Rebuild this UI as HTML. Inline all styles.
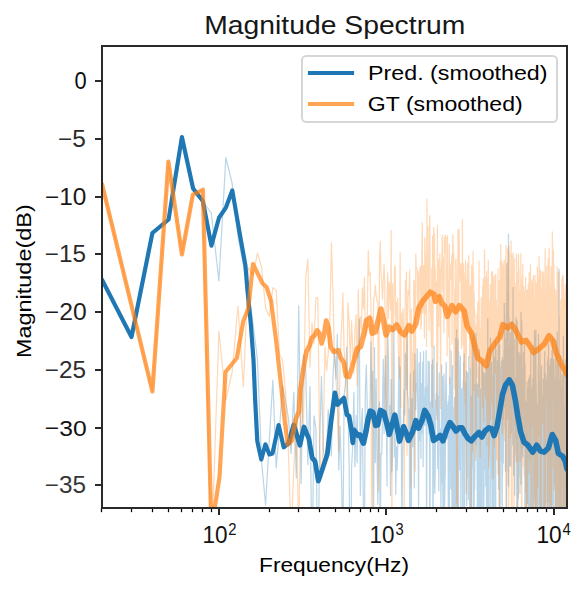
<!DOCTYPE html><html><head><meta charset="utf-8"><style>
html,body{margin:0;padding:0;background:#fff;overflow:hidden;}
svg{display:block;font-family:"Liberation Sans",sans-serif;}
</style></head><body>
<svg width="587" height="591" viewBox="0 0 587 591">
<defs><clipPath id="ax"><rect x="101.92" y="45.88" width="465" height="462"/></clipPath></defs>
<g clip-path="url(#ax)" fill="none" stroke-linejoin="round" stroke-linecap="round">
<g opacity="0.3"><polyline points="101.92,279.8 131.39,336.8 152.30,233.5 168.52,219.6 181.78,137.8 192.98,188.0 202.69,201.0 211.25,213.0 218.91,281.0 225.84,157.5 232.16,183.5 237.98,236.9 243.37,265.0 248.38,290.0 253.07,324.0 257.48,360.0 261.64,462.0 265.57,505.0 269.29,440.0 272.84,380.0 276.22,468.0 279.45,430.0 282.55,385.4 285.51,400.7 288.37,417.9 291.11,453.5 293.75,392.3 296.30,478.0 298.77,305.8 301.15,483.3 303.46,355.0 305.70,370.0 307.87,464.7 309.97,386.6 312.02,580.7 314.01,415.9 315.95,428.9 317.84,591.3 319.68,443.3 321.47,376.6 323.23,448.8 324.94,461.1 326.61,452.6 328.24,409.5 329.84,435.2 331.40,456.0 332.93,377.3 334.43,349.2 335.90,379.1 337.34,334.4 338.75,469.9 340.14,426.4 341.49,475.9 342.83,552.5 344.14,394.7 345.42,384.2 346.69,347.0 347.93,404.1 349.15,464.9 350.36,643.2 351.54,468.0 352.70,445.8 353.84,392.7 354.97,466.7 356.08,415.3 357.17,462.8 358.25,359.4 359.31,319.2 360.36,495.3 361.39,423.7 362.41,408.3 363.41,513.7 364.40,541.7 365.37,389.5 366.34,365.2 367.29,409.5 368.23,412.1 369.15,419.6 370.07,402.3 370.97,341.6 371.86,413.3 372.74,371.3 373.61,518.2 374.47,347.6 375.32,462.6 376.16,378.9 376.99,454.2 377.82,504.2 378.63,417.2 379.43,401.8 380.22,556.7 381.01,453.3 381.79,453.8 382.56,401.7 383.32,359.3 384.07,433.7 384.82,382.1 385.56,355.7 386.29,416.1 387.01,485.9 387.73,334.4 388.43,357.1 389.14,426.2 389.83,405.5 390.52,495.6 391.20,379.5 391.88,472.1 392.55,455.6 393.21,398.3 393.87,323.1 394.52,457.1 395.17,437.7 395.81,494.5 396.45,446.7 397.07,470.3 397.70,453.1 398.32,404.5 398.93,357.0 399.54,437.4 400.14,366.8 400.74,419.8 401.33,443.9 401.92,533.4 402.51,459.4 403.09,428.0 403.66,412.4 404.23,389.8 404.80,415.0 405.36,353.2 405.91,369.8 406.47,389.4 407.02,331.1 407.56,394.1 408.10,399.6 408.64,438.9 409.17,409.0 409.70,515.9 410.22,373.9 410.74,519.6 411.26,529.3 411.78,398.5 412.29,407.8 412.79,446.8 413.30,394.6 413.80,371.0 414.29,488.0 414.78,353.6 415.27,390.1 415.76,409.7 416.24,383.1 416.72,390.1 417.20,348.8 417.67,401.6 418.14,448.7 418.61,510.5 419.08,363.2 419.54,440.7 420.00,372.9 420.45,352.7 420.90,458.4 421.35,383.6 421.80,433.2 422.25,406.9 422.69,362.1 423.13,466.7 423.56,351.5 424.00,425.1 424.43,395.6 424.86,425.4 425.28,387.8 425.71,422.0 426.13,350.3 426.55,559.9 426.97,430.5 427.38,386.1 427.79,402.9 428.20,361.1 428.61,427.4 429.01,434.4 429.42,361.9 429.82,595.5 430.21,430.9 430.61,402.0 431.00,404.3 431.40,420.7 431.79,364.4 432.17,409.9 432.56,359.8 432.94,566.9 433.32,484.3 433.70,409.0 434.08,346.0 434.46,480.0 434.83,493.4 435.20,472.0 435.57,400.4 435.94,415.0 436.31,393.4 436.67,407.5 437.03,363.2 437.40,416.9 437.75,468.5 438.11,396.1 438.47,453.5 438.82,490.7 439.17,372.9 439.52,441.1 439.87,432.3 440.22,429.0 440.56,456.4 440.91,511.3 441.25,452.6 441.59,364.9 441.93,445.6 442.27,483.1 442.60,376.3 442.94,520.5 443.27,558.1 443.60,485.5 443.93,373.9 444.26,397.6 444.58,517.4 444.91,481.8 445.23,474.9 445.56,398.4 445.88,377.0 446.20,362.4 446.51,422.6 446.83,405.1 447.15,410.2 447.46,438.8 447.77,411.3 448.08,401.4 448.39,582.4 448.70,484.4 449.01,395.7 449.32,535.2 449.62,377.7 449.92,432.2 450.23,385.6 450.53,430.4 450.83,488.8 451.13,350.6 451.42,420.9 451.72,430.9 452.01,555.5 452.31,400.5 452.60,365.6 452.89,448.6 453.18,407.4 453.47,589.2 453.76,483.8 454.05,559.2 454.33,424.5 454.62,397.4 454.90,405.9 455.18,548.9 455.46,522.0 455.74,338.5 456.02,487.9 456.30,526.4 456.58,329.8 456.85,384.5 457.13,374.1 457.40,640.2 457.67,516.6 457.95,339.5 458.22,368.3 458.49,546.3 458.76,352.3 459.02,374.8 459.29,469.6 459.56,469.7 459.82,421.8 460.08,465.3 460.35,356.0 460.61,431.9 460.87,509.3 461.13,401.7 461.39,424.4 461.65,388.8 461.90,388.9 462.16,428.8 462.42,459.9 462.67,586.3 462.93,519.8 463.18,381.1 463.43,439.3 463.68,361.9 463.93,452.7 464.18,353.5 464.43,590.2 464.68,468.5 464.92,439.7 465.17,389.5 465.41,430.1 465.66,382.6 465.90,383.2 466.15,394.7 466.39,371.2 466.63,505.7 466.87,378.4 467.11,477.6 467.35,399.4 467.58,372.9 467.82,401.8 468.06,424.0 468.29,499.9 468.53,456.8 468.76,356.6 469.00,471.1 469.23,476.8 469.46,477.6 469.69,513.8 469.92,494.1 470.15,368.2 470.38,650.0 470.61,471.9 470.84,541.6 471.06,396.1 471.29,487.8 471.52,525.8 471.74,500.2 471.96,458.8 472.19,393.9 472.41,337.5 472.63,458.5 472.85,390.7 473.07,467.0 473.29,421.8 473.51,511.0 473.73,418.4 473.95,334.0 474.17,544.6 474.38,409.2 474.60,489.8 474.81,471.8 475.03,447.7 475.24,384.3 475.46,402.0 475.67,430.0 475.88,404.0 476.09,333.6 476.30,442.8 476.52,445.7 476.73,441.0 476.93,385.2 477.14,474.6 477.35,519.1 477.56,440.5 477.76,383.9 477.97,388.2 478.18,514.7 478.38,410.0 478.59,514.0 478.79,469.7 478.99,367.3 479.20,459.8 479.40,349.7 479.60,527.8 479.80,412.5 480.00,427.7 480.20,450.8 480.40,553.9 480.60,389.1 480.80,484.5 481.00,473.0 481.19,407.5 481.39,391.7 481.59,546.8 481.78,362.1 481.98,386.8 482.17,382.5 482.37,439.3 482.56,362.8 482.75,415.7 482.95,469.1 483.14,556.0 483.33,422.9 483.52,372.2 483.71,435.2 483.90,516.7 484.09,459.8 484.28,437.9 484.47,379.1 484.66,373.6 484.84,436.8 485.03,381.3 485.22,468.7 485.40,411.7 485.59,453.3 485.77,486.4 485.96,366.6 486.14,408.0 486.33,370.0 486.51,542.6 486.69,435.0 486.88,554.9 487.06,368.4 487.24,354.0 487.42,398.7 487.60,390.3 487.78,318.7 487.96,432.1 488.14,496.9 488.32,533.3 488.50,564.9 488.67,403.8 488.85,364.6 489.03,572.1 489.21,370.0 489.38,405.8 489.56,431.5 489.73,348.0 489.91,424.5 490.08,379.9 490.26,446.9 490.43,338.0 490.60,454.2 490.78,523.6 490.95,513.8 491.12,428.0 491.29,434.0 491.46,367.9 491.64,362.3 491.81,429.1 491.98,375.7 492.15,443.3 492.31,480.3 492.48,446.3 492.65,509.9 492.82,413.1 492.99,508.9 493.15,588.9 493.32,346.7 493.49,439.1 493.65,405.8 493.82,364.0 493.99,473.2 494.15,523.0 494.32,433.1 494.48,357.0 494.64,477.4 494.81,366.8 494.97,454.7 495.13,392.4 495.30,372.0 495.46,340.9 495.62,650.0 495.78,448.9 495.94,349.6 496.10,430.5 496.26,436.1 496.42,430.6 496.58,416.3 496.74,381.7 496.90,430.2 497.06,412.1 497.22,378.4 497.37,360.5 497.53,366.5 497.69,403.1 497.85,384.2 498.00,428.2 498.16,406.5 498.31,345.3 498.47,361.0 498.63,488.9 498.78,397.7 498.93,337.2 499.09,331.8 499.24,469.3 499.40,420.0 499.55,521.4 499.70,385.3 499.85,344.9 500.01,501.8 500.16,515.7 500.31,472.3 500.46,403.6 500.61,390.8 500.76,395.5 500.91,397.9 501.06,366.6 501.21,410.8 501.36,385.2 501.51,361.4 501.66,462.2 501.81,368.8 501.96,501.6 502.11,506.5 502.25,502.3 502.40,357.5 502.55,475.8 502.69,373.6 502.84,434.4 502.99,360.3 503.13,403.7 503.28,463.2 503.42,431.3 503.57,396.0 503.71,428.1 503.86,375.1 504.00,349.8 504.15,383.0 504.29,303.3 504.43,332.1 504.57,315.3 504.72,361.2 504.86,407.3 505.00,350.1 505.14,381.5 505.29,390.5 505.43,471.2 505.57,341.9 505.71,397.4 505.85,339.1 505.99,391.8 506.13,348.9 506.27,374.9 506.41,343.7 506.55,303.4 506.69,518.8 506.82,348.9 506.96,263.4 507.10,359.5 507.24,335.9 507.38,384.6 507.51,418.9 507.65,329.0 507.79,292.0 507.92,368.3 508.06,307.0 508.20,416.8 508.33,351.7 508.47,234.0 508.60,300.0 508.74,486.6 508.87,319.7 509.01,318.3 509.14,466.1 509.28,460.5 509.41,368.7 509.54,347.7 509.68,353.7 509.81,454.0 509.94,442.9 510.07,434.6 510.21,428.8 510.34,465.5 510.47,333.0 510.60,353.5 510.73,466.3 510.86,451.2 510.99,391.3 511.13,337.6 511.26,401.5 511.39,432.9 511.52,323.9 511.65,340.9 511.78,378.4 511.90,321.6 512.03,379.2 512.16,431.1 512.29,358.0 512.42,370.4 512.55,323.0 512.67,386.2 512.80,444.9 512.93,355.6 513.06,287.7 513.18,351.6 513.31,393.2 513.44,335.4 513.56,384.5 513.69,475.6 513.82,384.0 513.94,356.9 514.07,389.9 514.19,339.2 514.32,445.6 514.44,377.7 514.57,474.5 514.69,443.4 514.81,495.2 514.94,389.7 515.06,377.9 515.19,454.3 515.31,442.7 515.43,386.6 515.56,438.4 515.68,386.5 515.80,380.1 515.92,414.5 516.04,317.5 516.17,418.0 516.29,329.0 516.41,355.1 516.53,342.8 516.65,373.2 516.77,565.6 516.89,451.1 517.01,320.9 517.13,328.0 517.25,323.4 517.37,650.0 517.49,440.8 517.61,343.0 517.73,442.2 517.85,494.5 517.97,414.7 518.09,414.1 518.21,400.0 518.33,497.9 518.44,364.5 518.56,381.8 518.68,449.9 518.80,436.5 518.91,352.1 519.03,433.2 519.15,457.9 519.27,476.3 519.38,406.8 519.50,392.9 519.61,417.1 519.73,369.4 519.85,433.1 519.96,493.5 520.08,387.3 520.19,354.5 520.31,378.6 520.42,404.9 520.54,454.0 520.65,410.7 520.77,484.0 520.88,458.4 520.99,312.2 521.11,484.2 521.22,420.0 521.34,383.4 521.45,453.4 521.56,391.5 521.68,435.6 521.79,321.0 521.90,418.9 522.01,351.4 522.13,371.3 522.24,435.6 522.35,451.5 522.46,379.1 522.57,368.8 522.68,457.2 522.80,429.8 522.91,447.9 523.02,432.1 523.13,414.1 523.24,444.1 523.35,426.3 523.46,406.5 523.57,391.4 523.68,352.3 523.79,396.4 523.90,388.2 524.01,439.5 524.12,408.3 524.23,397.4 524.34,474.8 524.44,344.0 524.55,411.2 524.66,402.4 524.77,415.1 524.88,506.8 524.99,363.2 525.09,442.2 525.20,467.3 525.31,560.3 525.42,415.6 525.52,466.4 525.63,483.9 525.74,537.0 525.84,586.8 525.95,563.0 526.06,401.5 526.16,566.3 526.27,572.9 526.37,486.9 526.48,403.5 526.59,474.6 526.69,493.2 526.80,439.7 526.90,403.7 527.01,393.3 527.11,381.8 527.22,434.3 527.32,451.3 527.42,461.3 527.53,503.3 527.63,399.2 527.74,388.3 527.84,411.4 527.94,462.1 528.05,391.2 528.15,497.6 528.25,394.9 528.36,418.5 528.46,464.9 528.56,505.3 528.67,378.9 528.77,525.4 528.87,468.0 528.97,415.3 529.07,414.0 529.18,521.0 529.28,456.0 529.38,489.2 529.48,442.8 529.58,460.3 529.68,412.7 529.78,375.3 529.89,416.5 529.99,545.3 530.09,413.5 530.19,448.0 530.29,483.1 530.39,379.8 530.49,407.3 530.59,602.1 530.69,373.6 530.79,348.3 530.89,528.0 530.99,406.5 531.08,470.7 531.18,449.5 531.28,441.4 531.38,474.8 531.48,399.0 531.58,495.3 531.68,461.0 531.78,443.9 531.87,436.3 531.97,387.9 532.07,440.0 532.17,424.7 532.27,589.0 532.36,461.7 532.46,385.7 532.56,386.4 532.65,491.0 532.75,379.2 532.85,437.0 532.95,398.4 533.04,403.8 533.14,521.2 533.23,650.0 533.33,406.2 533.43,345.5 533.52,465.0 533.62,503.2 533.71,467.1 533.81,393.5 533.91,385.4 534.00,471.5 534.10,367.9 534.19,386.8 534.29,466.0 534.38,449.0 534.48,330.9 534.57,395.9 534.66,424.7 534.76,339.2 534.85,388.9 534.95,497.9 535.04,408.7 535.14,405.4 535.23,573.7 535.32,409.8 535.42,337.6 535.51,422.7 535.60,633.3 535.70,396.1 535.79,423.9 535.88,330.2 535.97,420.3 536.07,484.9 536.16,383.4 536.25,425.9 536.34,393.7 536.44,520.2 536.53,405.3 536.62,440.3 536.71,462.1 536.80,472.2 536.90,415.4 536.99,531.6 537.08,440.3 537.17,417.2 537.26,527.0 537.35,487.7 537.44,404.4 537.53,416.3 537.62,432.6 537.72,442.2 537.81,453.5 537.90,420.5 537.99,436.3 538.08,612.6 538.17,366.9 538.26,394.0 538.35,393.1 538.44,456.1 538.53,334.3 538.61,409.5 538.70,469.4 538.79,381.3 538.88,604.0 538.97,470.4 539.06,467.5 539.15,564.4 539.24,504.3 539.33,505.2 539.42,456.2 539.50,457.6 539.59,450.8 539.68,402.9 539.77,424.4 539.86,421.1 539.94,461.8 540.03,347.1 540.12,585.4 540.21,427.3 540.29,457.1 540.38,601.6 540.47,510.1 540.56,468.0 540.64,614.9 540.73,407.5 540.82,518.8 540.90,549.2 540.99,546.4 541.08,454.1 541.16,520.7 541.25,411.2 541.33,373.8 541.42,476.4 541.51,365.5 541.59,425.2 541.68,503.1 541.76,585.1 541.85,438.3 541.94,490.3 542.02,442.1 542.11,475.0 542.19,432.3 542.28,400.7 542.36,402.8 542.45,600.0 542.53,448.5 542.62,505.0 542.70,395.3 542.78,499.6 542.87,556.9 542.95,463.4 543.04,439.7 543.12,379.4 543.21,405.7 543.29,413.3 543.37,409.1 543.46,437.2 543.54,431.4 543.62,442.3 543.71,418.1 543.79,443.9 543.87,453.5 543.96,580.9 544.04,629.1 544.12,454.2 544.21,436.4 544.29,365.7 544.37,499.8 544.45,494.8 544.54,361.0 544.62,395.0 544.70,351.6 544.78,362.2 544.87,464.4 544.95,462.6 545.03,506.5 545.11,400.3 545.19,428.0 545.27,538.4 545.36,387.5 545.44,487.0 545.52,373.8 545.60,485.0 545.68,444.3 545.76,397.9 545.84,454.5 545.92,435.6 546.00,451.0 546.09,502.1 546.17,405.5 546.25,434.5 546.33,435.4 546.41,380.0 546.49,382.9 546.57,430.4 546.65,455.0 546.73,430.7 546.81,452.5 546.89,461.4 546.97,574.1 547.05,393.6 547.13,424.8 547.21,376.0 547.29,432.3 547.37,474.8 547.44,445.1 547.52,361.6 547.60,554.1 547.68,460.9 547.76,406.8 547.84,445.7 547.92,357.0 548.00,457.1 548.07,414.4 548.15,442.2 548.23,444.2 548.31,501.9 548.39,471.5 548.47,445.1 548.54,343.8 548.62,392.6 548.70,402.0 548.78,605.2 548.86,368.6 548.93,494.6 549.01,452.1 549.09,409.9 549.17,401.3 549.24,396.6 549.32,366.1 549.40,612.2 549.47,440.3 549.55,518.0 549.63,429.3 549.71,424.7 549.78,386.6 549.86,388.0 549.93,564.6 550.01,413.0 550.09,423.6 550.16,453.7 550.24,438.4 550.32,364.6 550.39,429.6 550.47,359.9 550.54,435.4 550.62,456.0 550.70,375.1 550.77,511.4 550.85,419.1 550.92,467.9 551.00,467.1 551.07,477.7 551.15,358.6 551.22,598.8 551.30,380.2 551.37,389.9 551.45,392.0 551.52,391.9 551.60,370.5 551.67,439.1 551.75,493.7 551.82,415.7 551.90,412.8 551.97,412.2 552.05,350.5 552.12,431.1 552.19,456.0 552.27,407.0 552.34,504.7 552.42,384.1 552.49,480.6 552.56,487.7 552.64,339.0 552.71,380.8 552.79,458.4 552.86,470.9 552.93,650.0 553.01,432.6 553.08,400.2 553.15,462.2 553.23,361.2 553.30,430.5 553.37,399.8 553.45,461.1 553.52,389.8 553.59,483.4 553.66,375.8 553.74,522.5 553.81,440.3 553.88,359.1 553.95,369.8 554.03,362.9 554.10,379.3 554.17,434.5 554.24,411.8 554.31,385.4 554.39,438.3 554.46,401.7 554.53,423.1 554.60,399.9 554.67,485.0 554.75,428.2 554.82,381.1 554.89,415.0 554.96,384.5 555.03,388.5 555.10,435.4 555.17,379.0 555.25,391.0 555.32,399.7 555.39,573.9 555.46,582.9 555.53,393.7 555.60,468.8 555.67,461.2 555.74,354.9 555.81,415.6 555.88,340.2 555.95,402.9 556.02,522.8 556.09,555.0 556.16,563.8 556.23,600.7 556.30,448.2 556.37,395.8 556.44,476.6 556.51,450.6 556.58,381.2 556.65,380.3 556.72,550.9 556.79,458.5 556.86,432.4 556.93,397.1 557.00,412.8 557.07,516.7 557.14,445.2 557.21,429.2 557.28,332.2 557.35,432.4 557.42,437.0 557.49,401.1 557.56,379.8 557.62,433.5 557.69,535.9 557.76,408.8 557.83,529.1 557.90,429.2 557.97,439.0 558.04,424.1 558.10,365.2 558.17,374.6 558.24,451.8 558.31,547.2 558.38,448.4 558.45,396.7 558.51,418.8 558.58,422.5 558.65,391.5 558.72,445.9 558.79,363.9 558.85,381.2 558.92,369.5 558.99,433.6 559.06,269.0 559.12,519.3 559.19,416.8 559.26,526.9 559.33,379.8 559.39,447.5 559.46,512.6 559.53,442.2 559.59,552.0 559.66,466.8 559.73,495.5 559.79,381.7 559.86,397.1 559.93,479.7 559.99,429.9 560.06,444.6 560.13,400.6 560.19,397.4 560.26,495.8 560.33,503.0 560.39,481.4 560.46,560.9 560.53,396.9 560.59,406.2 560.66,438.2 560.72,355.5 560.79,486.0 560.86,432.6 560.92,422.6 560.99,468.3 561.05,417.4 561.12,386.9 561.18,566.9 561.25,445.8 561.32,444.0 561.38,451.0 561.45,470.8 561.51,464.2 561.58,412.3 561.64,548.7 561.71,481.1 561.77,420.9 561.84,451.9 561.90,516.9 561.97,442.5 562.03,534.4 562.10,562.3 562.16,418.9 562.23,375.1 562.29,441.9 562.35,416.6 562.42,484.0 562.48,572.7 562.55,441.9 562.61,432.9 562.68,409.5 562.74,574.8 562.80,650.0 562.87,450.2 562.93,443.4 563.00,439.0 563.06,417.4 563.12,374.1 563.19,437.7 563.25,403.4 563.32,526.7 563.38,336.4 563.44,367.9 563.51,523.4 563.57,430.1 563.63,409.6 563.70,480.0 563.76,421.2 563.82,478.3 563.89,416.4 563.95,425.4 564.01,510.8 564.08,506.4 564.14,521.8 564.20,430.1 564.26,468.0 564.33,418.3 564.39,414.0 564.45,454.2 564.52,547.4 564.58,406.6 564.64,590.7 564.70,408.7 564.77,424.4 564.83,409.7 564.89,409.0 564.95,451.8 565.01,365.9 565.08,393.2 565.14,522.0 565.20,514.9 565.26,577.5 565.32,360.0 565.39,457.4 565.45,535.1 565.51,650.0 565.57,381.0 565.63,489.1 565.69,500.3 565.76,462.0 565.82,429.0 565.88,401.9 565.94,452.5 566.00,404.5 566.06,397.0 566.12,419.8 566.19,474.1 566.25,460.1 566.31,611.1 566.37,401.5 566.43,476.4 566.49,449.5 566.55,414.2 566.61,430.9 566.67,411.1 566.73,463.4 566.80,367.5 566.86,438.9 566.92,451.5" stroke="#1f77b4" stroke-width="1.22"/></g>
<g opacity="0.3"><polyline points="101.92,184.0 131.39,305.0 152.30,391.1 168.52,162.3 181.78,253.6 192.98,194.8 202.69,189.8 211.25,560.0 218.91,331.0 225.84,400.0 232.16,372.0 237.98,306.0 243.37,387.0 248.38,267.5 253.07,275.0 257.48,253.0 261.64,267.5 265.57,307.8 269.29,316.5 272.84,287.6 276.22,290.5 279.45,354.0 282.55,360.0 285.51,391.4 288.37,449.0 291.11,537.2 293.75,469.4 296.30,420.1 298.77,537.5 301.15,383.7 303.46,425.4 305.70,276.7 307.87,259.3 309.97,367.5 312.02,322.9 314.01,343.7 315.95,297.9 317.84,297.7 319.68,448.1 321.47,478.4 323.23,443.5 324.94,346.8 326.61,370.8 328.24,352.9 329.84,320.8 331.40,242.7 332.93,292.5 334.43,355.7 335.90,374.1 337.34,407.5 338.75,451.1 340.14,358.2 341.49,329.9 342.83,292.9 344.14,351.0 345.42,369.6 346.69,401.0 347.93,302.9 349.15,321.3 350.36,364.5 351.54,320.8 352.70,348.7 353.84,373.2 354.97,330.3 356.08,314.8 357.17,386.6 358.25,289.6 359.31,339.9 360.36,316.7 361.39,329.1 362.41,287.8 363.41,308.6 364.40,277.0 365.37,336.4 366.34,333.0 367.29,321.0 368.23,250.5 369.15,275.4 370.07,272.2 370.97,311.8 371.86,650.0 372.74,387.5 373.61,298.3 374.47,297.1 375.32,285.1 376.16,295.2 376.99,301.0 377.82,301.4 378.63,491.2 379.43,262.0 380.22,241.0 381.01,272.9 381.79,283.8 382.56,299.1 383.32,279.6 384.07,264.7 384.82,281.3 385.56,427.2 386.29,415.2 387.01,300.9 387.73,272.9 388.43,318.4 389.14,282.3 389.83,289.7 390.52,310.0 391.20,230.3 391.88,555.2 392.55,283.7 393.21,321.9 393.87,315.7 394.52,269.2 395.17,265.7 395.81,326.0 396.45,302.4 397.07,326.3 397.70,298.2 398.32,351.5 398.93,359.7 399.54,378.6 400.14,252.6 400.74,407.5 401.33,313.0 401.92,329.0 402.51,314.1 403.09,308.8 403.66,343.0 404.23,509.4 404.80,341.9 405.36,280.8 405.91,291.4 406.47,271.9 407.02,455.2 407.56,317.9 408.10,290.5 408.64,295.2 409.17,288.9 409.70,270.0 410.22,361.5 410.74,486.2 411.26,309.0 411.78,395.3 412.29,423.8 412.79,351.9 413.30,390.8 413.80,280.2 414.29,281.3 414.78,301.3 415.27,471.2 415.76,254.3 416.24,266.6 416.72,268.4 417.20,269.4 417.67,316.5 418.14,271.7 418.61,310.6 419.08,296.9 419.54,277.7 420.00,267.7 420.45,266.4 420.90,329.2 421.35,322.9 421.80,257.8 422.25,222.8 422.69,313.1 423.13,303.7 423.56,265.5 424.00,286.2 424.43,338.3 424.86,237.9 425.28,266.6 425.71,314.3 426.13,255.6 426.55,346.4 426.97,199.2 427.38,288.9 427.79,227.0 428.20,291.9 428.61,274.4 429.01,330.7 429.42,228.9 429.82,215.7 430.21,309.8 430.61,311.9 431.00,318.6 431.40,346.6 431.79,268.1 432.17,407.4 432.56,236.1 432.94,347.1 433.32,251.3 433.70,227.3 434.08,301.1 434.46,233.9 434.83,286.0 435.20,267.7 435.57,292.9 435.94,281.3 436.31,282.0 436.67,322.1 437.03,419.7 437.40,225.1 437.75,363.8 438.11,284.1 438.47,259.0 438.82,326.3 439.17,267.0 439.52,306.8 439.87,253.6 440.22,313.6 440.56,408.5 440.91,313.0 441.25,268.6 441.59,264.6 441.93,257.2 442.27,235.2 442.60,290.6 442.94,257.5 443.27,297.1 443.60,295.8 443.93,332.8 444.26,237.5 444.58,252.8 444.91,251.6 445.23,234.9 445.56,248.5 445.88,237.4 446.20,312.1 446.51,303.0 446.83,263.0 447.15,356.0 447.46,235.7 447.77,277.8 448.08,290.1 448.39,317.2 448.70,336.8 449.01,317.5 449.32,244.5 449.62,384.0 449.92,263.1 450.23,268.2 450.53,265.1 450.83,278.9 451.13,270.1 451.42,279.2 451.72,255.4 452.01,344.2 452.31,289.9 452.60,249.5 452.89,234.7 453.18,254.9 453.47,264.8 453.76,252.0 454.05,366.7 454.33,379.4 454.62,389.3 454.90,389.3 455.18,289.2 455.46,419.6 455.74,260.1 456.02,258.9 456.30,278.8 456.58,502.8 456.85,314.0 457.13,354.8 457.40,514.7 457.67,313.0 457.95,229.9 458.22,352.6 458.49,266.9 458.76,317.3 459.02,228.8 459.29,245.4 459.56,276.5 459.82,268.2 460.08,273.7 460.35,281.5 460.61,268.9 460.87,263.4 461.13,269.5 461.39,348.4 461.65,282.8 461.90,275.8 462.16,306.7 462.42,219.3 462.67,327.7 462.93,345.1 463.18,283.9 463.43,336.4 463.68,263.5 463.93,389.6 464.18,272.7 464.43,289.5 464.68,313.1 464.92,352.5 465.17,399.8 465.41,405.4 465.66,260.9 465.90,341.5 466.15,493.4 466.39,281.2 466.63,305.6 466.87,318.9 467.11,299.1 467.35,278.9 467.58,263.4 467.82,328.5 468.06,286.6 468.29,294.1 468.53,277.1 468.76,255.5 469.00,311.5 469.23,327.3 469.46,286.2 469.69,357.8 469.92,291.2 470.15,367.6 470.38,285.2 470.61,301.1 470.84,328.1 471.06,564.2 471.29,337.7 471.52,266.5 471.74,265.3 471.96,308.4 472.19,266.1 472.41,315.8 472.63,452.1 472.85,328.8 473.07,251.3 473.29,312.8 473.51,273.4 473.73,292.0 473.95,390.6 474.17,292.6 474.38,326.6 474.60,373.0 474.81,310.4 475.03,356.9 475.24,347.2 475.46,419.1 475.67,460.5 475.88,325.2 476.09,457.1 476.30,360.4 476.52,342.6 476.73,362.8 476.93,314.4 477.14,377.1 477.35,329.0 477.56,355.9 477.76,302.4 477.97,370.5 478.18,396.4 478.38,349.4 478.59,320.9 478.79,366.6 478.99,261.1 479.20,310.2 479.40,386.8 479.60,365.2 479.80,327.7 480.00,391.8 480.20,457.5 480.40,434.1 480.60,338.2 480.80,389.8 481.00,368.9 481.19,297.4 481.39,367.1 481.59,337.3 481.78,304.3 481.98,303.3 482.17,302.7 482.37,408.0 482.56,286.5 482.75,312.0 482.95,323.8 483.14,278.9 483.33,357.8 483.52,340.5 483.71,421.8 483.90,301.3 484.09,334.4 484.28,369.1 484.47,250.2 484.66,259.2 484.84,327.1 485.03,279.9 485.22,395.7 485.40,342.3 485.59,323.4 485.77,276.8 485.96,400.0 486.14,313.2 486.33,345.3 486.51,384.3 486.69,271.3 486.88,445.4 487.06,278.6 487.24,430.0 487.42,305.7 487.60,357.0 487.78,358.0 487.96,321.8 488.14,341.1 488.32,260.9 488.50,401.6 488.67,467.2 488.85,304.3 489.03,332.5 489.21,457.4 489.38,334.0 489.56,342.6 489.73,299.0 489.91,312.0 490.08,328.3 490.26,284.4 490.43,419.6 490.60,318.3 490.78,352.5 490.95,372.9 491.12,341.5 491.29,340.0 491.46,305.7 491.64,271.4 491.81,403.7 491.98,372.2 492.15,301.1 492.31,305.0 492.48,293.5 492.65,272.4 492.82,403.8 492.99,478.5 493.15,286.3 493.32,378.0 493.49,277.1 493.65,396.9 493.82,315.1 493.99,304.8 494.15,342.6 494.32,446.7 494.48,315.2 494.64,306.8 494.81,295.9 494.97,275.6 495.13,318.9 495.30,372.7 495.46,295.6 495.62,332.6 495.78,274.2 495.94,321.8 496.10,307.9 496.26,299.7 496.42,302.2 496.58,459.3 496.74,371.8 496.90,416.7 497.06,459.7 497.22,308.5 497.37,351.2 497.53,360.7 497.69,315.3 497.85,473.9 498.00,268.6 498.16,405.1 498.31,315.8 498.47,372.4 498.63,332.1 498.78,353.3 498.93,280.8 499.09,575.7 499.24,282.2 499.40,348.1 499.55,284.8 499.70,344.5 499.85,407.8 500.01,348.9 500.16,261.3 500.31,311.2 500.46,296.6 500.61,291.5 500.76,244.4 500.91,292.7 501.06,339.1 501.21,275.4 501.36,275.7 501.51,272.2 501.66,283.7 501.81,261.0 501.96,407.0 502.11,433.5 502.25,282.3 502.40,291.5 502.55,300.0 502.69,433.6 502.84,263.8 502.99,298.6 503.13,266.1 503.28,304.4 503.42,354.0 503.57,327.9 503.71,358.8 503.86,420.1 504.00,271.7 504.15,293.2 504.29,260.1 504.43,386.8 504.57,419.6 504.72,440.7 504.86,285.7 505.00,279.2 505.14,333.8 505.29,349.6 505.43,365.2 505.57,285.0 505.71,256.8 505.85,576.1 505.99,245.7 506.13,280.9 506.27,419.2 506.41,325.8 506.55,349.7 506.69,315.8 506.82,345.2 506.96,318.4 507.10,265.3 507.24,301.6 507.38,353.4 507.51,472.0 507.65,248.8 507.79,271.3 507.92,248.8 508.06,484.6 508.20,365.5 508.33,348.2 508.47,253.1 508.60,267.3 508.74,589.0 508.87,246.0 509.01,341.6 509.14,314.7 509.28,284.1 509.41,252.3 509.54,394.1 509.68,278.1 509.81,282.6 509.94,420.2 510.07,303.8 510.21,325.8 510.34,437.6 510.47,312.4 510.60,340.3 510.73,420.2 510.86,263.5 510.99,240.8 511.13,287.8 511.26,281.0 511.39,514.3 511.52,275.1 511.65,338.7 511.78,254.7 511.90,366.7 512.03,576.2 512.16,488.0 512.29,354.4 512.42,305.5 512.55,263.7 512.67,288.5 512.80,274.4 512.93,330.9 513.06,289.4 513.18,252.9 513.31,274.2 513.44,314.1 513.56,376.8 513.69,354.7 513.82,428.9 513.94,547.5 514.07,300.5 514.19,258.5 514.32,272.3 514.44,338.9 514.57,287.9 514.69,323.4 514.81,339.8 514.94,425.2 515.06,286.7 515.19,296.6 515.31,396.6 515.43,333.8 515.56,341.4 515.68,371.3 515.80,455.3 515.92,283.1 516.04,461.4 516.17,316.0 516.29,358.7 516.41,254.1 516.53,286.0 516.65,258.9 516.77,280.9 516.89,461.9 517.01,412.6 517.13,457.0 517.25,411.4 517.37,381.2 517.49,282.1 517.61,397.5 517.73,454.3 517.85,278.4 517.97,573.4 518.09,272.8 518.21,272.1 518.33,380.3 518.44,313.1 518.56,254.3 518.68,275.6 518.80,382.3 518.91,344.8 519.03,269.3 519.15,394.8 519.27,289.9 519.38,418.9 519.50,307.0 519.61,372.3 519.73,293.8 519.85,290.2 519.96,360.2 520.08,461.0 520.19,363.8 520.31,353.0 520.42,352.8 520.54,290.3 520.65,408.0 520.77,383.9 520.88,253.6 520.99,374.7 521.11,448.3 521.22,302.8 521.34,299.7 521.45,298.9 521.56,519.3 521.68,312.8 521.79,279.9 521.90,552.2 522.01,303.3 522.13,294.0 522.24,342.0 522.35,276.9 522.46,293.5 522.57,353.4 522.68,296.8 522.80,264.3 522.91,466.7 523.02,305.7 523.13,409.1 523.24,295.1 523.35,372.8 523.46,406.3 523.57,298.2 523.68,361.6 523.79,305.6 523.90,286.5 524.01,353.3 524.12,326.0 524.23,346.6 524.34,431.3 524.44,336.5 524.55,323.8 524.66,327.3 524.77,367.1 524.88,291.7 524.99,312.4 525.09,294.9 525.20,307.5 525.31,360.1 525.42,427.5 525.52,476.7 525.63,277.5 525.74,492.0 525.84,302.7 525.95,290.5 526.06,452.0 526.16,469.1 526.27,365.8 526.37,540.7 526.48,360.5 526.59,521.5 526.69,323.2 526.80,451.7 526.90,436.3 527.01,290.1 527.11,319.7 527.22,311.8 527.32,308.2 527.42,505.1 527.53,529.0 527.63,417.7 527.74,330.3 527.84,327.7 527.94,302.5 528.05,420.7 528.15,285.2 528.25,286.2 528.36,301.9 528.46,365.9 528.56,375.8 528.67,307.3 528.77,283.7 528.87,410.0 528.97,401.1 529.07,472.7 529.18,272.6 529.28,293.9 529.38,358.4 529.48,322.7 529.58,299.1 529.68,411.2 529.78,372.6 529.89,280.9 529.99,356.6 530.09,389.0 530.19,382.8 530.29,459.4 530.39,406.9 530.49,264.8 530.59,406.8 530.69,317.0 530.79,381.2 530.89,331.1 530.99,281.4 531.08,554.3 531.18,455.3 531.28,400.5 531.38,289.1 531.48,281.6 531.58,356.1 531.68,422.6 531.78,415.8 531.87,286.4 531.97,280.6 532.07,425.6 532.17,309.0 532.27,307.7 532.36,389.4 532.46,297.8 532.56,332.0 532.65,348.8 532.75,304.8 532.85,302.1 532.95,292.5 533.04,509.1 533.14,427.5 533.23,277.3 533.33,275.8 533.43,301.1 533.52,410.8 533.62,339.5 533.71,331.8 533.81,403.5 533.91,397.7 534.00,378.0 534.10,300.0 534.19,337.4 534.29,306.2 534.38,350.5 534.48,340.9 534.57,525.9 534.66,311.8 534.76,297.9 534.85,301.1 534.95,275.1 535.04,512.2 535.14,302.6 535.23,501.9 535.32,281.7 535.42,650.0 535.51,280.9 535.60,374.7 535.70,359.6 535.79,329.0 535.88,494.1 535.97,432.9 536.07,377.7 536.16,437.1 536.25,433.3 536.34,398.0 536.44,377.8 536.53,383.2 536.62,419.8 536.71,283.5 536.80,314.5 536.90,520.7 536.99,381.1 537.08,482.4 537.17,305.3 537.26,407.2 537.35,266.6 537.44,308.3 537.53,374.9 537.62,428.1 537.72,451.8 537.81,487.2 537.90,419.2 537.99,304.7 538.08,308.4 538.17,295.7 538.26,412.4 538.35,386.0 538.44,319.2 538.53,277.0 538.61,376.3 538.70,433.6 538.79,435.5 538.88,351.0 538.97,318.3 539.06,256.7 539.15,350.8 539.24,349.8 539.33,402.0 539.42,294.3 539.50,373.7 539.59,286.2 539.68,268.4 539.77,296.4 539.86,448.8 539.94,353.4 540.03,354.5 540.12,650.0 540.21,439.7 540.29,333.0 540.38,401.1 540.47,338.9 540.56,410.5 540.64,345.1 540.73,270.8 540.82,562.1 540.90,311.7 540.99,329.4 541.08,289.8 541.16,325.1 541.25,650.0 541.33,300.1 541.42,334.4 541.51,458.4 541.59,307.1 541.68,340.5 541.76,418.8 541.85,329.5 541.94,379.8 542.02,362.7 542.11,340.6 542.19,338.4 542.28,315.6 542.36,272.2 542.45,286.7 542.53,279.3 542.62,276.9 542.70,301.9 542.78,288.1 542.87,424.0 542.95,271.6 543.04,272.1 543.12,393.7 543.21,323.0 543.29,357.2 543.37,277.6 543.46,388.3 543.54,308.8 543.62,371.5 543.71,273.3 543.79,323.4 543.87,321.6 543.96,542.7 544.04,388.2 544.12,322.4 544.21,348.1 544.29,410.2 544.37,281.2 544.45,336.1 544.54,407.5 544.62,367.3 544.70,519.2 544.78,288.5 544.87,368.9 544.95,410.2 545.03,324.9 545.11,248.8 545.19,267.2 545.27,506.0 545.36,437.1 545.44,365.9 545.52,417.8 545.60,447.6 545.68,455.8 545.76,291.4 545.84,348.1 545.92,394.9 546.00,353.5 546.09,292.6 546.17,298.0 546.25,302.2 546.33,374.3 546.41,292.6 546.49,402.9 546.57,358.4 546.65,266.0 546.73,287.8 546.81,399.5 546.89,280.2 546.97,336.7 547.05,293.5 547.13,366.5 547.21,313.9 547.29,395.9 547.37,517.9 547.44,312.7 547.52,493.2 547.60,436.8 547.68,347.8 547.76,279.6 547.84,306.8 547.92,378.6 548.00,294.8 548.07,296.1 548.15,258.4 548.23,393.2 548.31,326.2 548.39,267.5 548.47,292.0 548.54,333.9 548.62,329.2 548.70,458.8 548.78,298.7 548.86,501.6 548.93,327.6 549.01,351.0 549.09,293.7 549.17,248.5 549.24,271.7 549.32,309.3 549.40,434.6 549.47,284.2 549.55,287.8 549.63,346.6 549.71,375.7 549.78,421.7 549.86,349.7 549.93,547.0 550.01,412.2 550.09,547.4 550.16,294.6 550.24,368.9 550.32,383.6 550.39,422.6 550.47,613.2 550.54,287.4 550.62,292.3 550.70,350.0 550.77,368.4 550.85,272.6 550.92,463.2 551.00,267.0 551.07,283.4 551.15,352.0 551.22,413.5 551.30,341.7 551.37,467.8 551.45,294.5 551.52,609.3 551.60,346.2 551.67,480.8 551.75,388.4 551.82,290.5 551.90,332.6 551.97,288.4 552.05,295.5 552.12,263.6 552.19,468.1 552.27,313.0 552.34,231.9 552.42,301.7 552.49,299.4 552.56,242.8 552.64,289.0 552.71,282.8 552.79,279.3 552.86,270.2 552.93,297.3 553.01,401.1 553.08,392.0 553.15,320.0 553.23,353.8 553.30,330.6 553.37,278.4 553.45,321.1 553.52,250.4 553.59,309.9 553.66,392.7 553.74,345.3 553.81,468.5 553.88,320.9 553.95,264.3 554.03,314.7 554.10,490.0 554.17,284.3 554.24,393.2 554.31,324.3 554.39,296.4 554.46,287.7 554.53,375.2 554.60,331.6 554.67,337.0 554.75,351.7 554.82,341.1 554.89,308.9 554.96,453.4 555.03,301.4 555.10,330.2 555.17,299.2 555.25,439.3 555.32,424.6 555.39,336.7 555.46,580.1 555.53,356.6 555.60,296.3 555.67,445.3 555.74,290.5 555.81,344.9 555.88,342.1 555.95,294.7 556.02,345.8 556.09,580.0 556.16,365.8 556.23,352.9 556.30,320.2 556.37,534.8 556.44,385.1 556.51,379.0 556.58,323.7 556.65,381.5 556.72,352.3 556.79,366.5 556.86,348.8 556.93,312.6 557.00,419.2 557.07,266.9 557.14,300.2 557.21,295.0 557.28,379.8 557.35,429.9 557.42,361.9 557.49,271.9 557.56,436.4 557.62,305.2 557.69,289.1 557.76,375.5 557.83,544.8 557.90,346.1 557.97,295.4 558.04,362.2 558.10,426.3 558.17,368.2 558.24,445.2 558.31,405.2 558.38,592.3 558.45,292.8 558.51,336.6 558.58,295.1 558.65,396.4 558.72,330.3 558.79,272.3 558.85,289.4 558.92,440.8 558.99,322.7 559.06,472.4 559.12,316.6 559.19,421.2 559.26,321.2 559.33,406.0 559.39,536.6 559.46,368.4 559.53,473.6 559.59,337.6 559.66,363.0 559.73,512.5 559.79,409.3 559.86,460.4 559.93,370.0 559.99,342.1 560.06,361.9 560.13,317.7 560.19,484.3 560.26,358.5 560.33,320.4 560.39,376.2 560.46,579.3 560.53,324.9 560.59,308.4 560.66,344.3 560.72,572.9 560.79,299.6 560.86,442.4 560.92,306.5 560.99,388.2 561.05,320.5 561.12,324.6 561.18,321.0 561.25,319.1 561.32,327.2 561.38,516.5 561.45,447.0 561.51,325.5 561.58,370.1 561.64,318.7 561.71,384.1 561.77,279.2 561.84,311.0 561.90,333.7 561.97,446.7 562.03,307.8 562.10,320.3 562.16,311.5 562.23,383.3 562.29,295.7 562.35,414.2 562.42,369.3 562.48,301.9 562.55,323.0 562.61,275.5 562.68,318.9 562.74,452.5 562.80,443.9 562.87,489.7 562.93,382.0 563.00,296.4 563.06,515.1 563.12,479.7 563.19,386.9 563.25,419.7 563.32,276.3 563.38,313.2 563.44,305.4 563.51,410.1 563.57,298.0 563.63,328.5 563.70,324.1 563.76,328.9 563.82,448.5 563.89,349.6 563.95,304.2 564.01,505.8 564.08,298.2 564.14,309.0 564.20,435.0 564.26,319.6 564.33,326.7 564.39,323.7 564.45,536.0 564.52,426.7 564.58,362.0 564.64,313.2 564.70,339.9 564.77,412.3 564.83,304.3 564.89,331.9 564.95,290.9 565.01,506.8 565.08,372.4 565.14,334.7 565.20,382.7 565.26,284.6 565.32,380.1 565.39,306.3 565.45,297.6 565.51,467.9 565.57,522.5 565.63,306.6 565.69,324.9 565.76,497.8 565.82,321.9 565.88,553.5 565.94,389.5 566.00,339.2 566.06,364.7 566.12,394.9 566.19,312.4 566.25,304.8 566.31,334.5 566.37,325.1 566.43,291.5 566.49,407.5 566.55,327.2 566.61,389.2 566.67,368.1 566.73,490.1 566.80,598.9 566.86,334.6 566.92,397.3" stroke="#ff7f0e" stroke-width="1.22"/></g>
<g><polyline points="102.00,279.8 131.50,337.0 152.40,233.0 168.60,219.5 181.90,137.0 193.10,188.5 202.80,201.0 211.40,245.6 219.00,217.7 225.90,207.6 232.30,190.5 240.30,236.9 245.40,265.3 247.40,289.8 250.80,323.8 253.50,360.0 255.20,400.6 257.30,441.2 261.30,459.5 265.40,444.3 269.40,454.4 272.50,453.4 278.60,425.0 283.70,447.3 288.70,443.2" stroke="#1f77b4" stroke-width="4.17"/><polyline points="288.70,443.2 293.80,425.0 299.90,445.3 304.00,427.0 309.00,439.2 312.10,457.5 315.10,461.5 318.30,481.2 322.20,469.7 327.30,454.3 331.10,421.1 334.90,393.0 337.50,404.5 343.90,398.1 347.00,414.7 349.00,416.0 351.60,431.3 352.80,442.8 354.10,430.0 358.00,435.2 360.00,435.0" stroke="#1f77b4" stroke-width="4.8"/><polyline points="358.00,435.2 360.00,435.0 363.40,443.2 366.10,430.9 368.20,418.6 370.20,411.1 372.90,412.5 375.70,425.4 377.70,424.8 380.40,410.4 383.90,412.5 387.30,425.4 389.30,434.3 392.70,422.7 394.80,415.2 396.80,425.4 399.50,441.1 403.60,426.8 407.00,435.0 408.40,440.4 412.50,432.2 415.90,420.7 418.60,428.2 422.00,420.7 424.70,410.4 428.10,415.9 430.90,425.4 433.60,440.4 437.70,437.7 440.00,435.5 443.00,440.9 446.90,429.4 449.90,422.6 453.00,426.4 456.00,431.0 459.00,427.9 462.10,427.9 465.10,434.0 468.20,438.6 471.20,440.9 474.30,437.0 478.90,432.5 481.90,437.0 485.00,431.0 488.80,427.9 491.80,428.7 494.10,435.5 497.10,426.4 500.20,408.1 502.50,394.4 505.50,385.2 509.30,379.9 512.40,385.2 515.40,400.5 517.80,416.2 520.50,431.1 523.90,442.0 528.00,445.3 532.70,452.1 536.80,445.3 540.20,450.8 544.20,452.1 548.30,448.1 552.30,434.5 555.70,440.6 558.40,453.5 562.50,456.2 565.20,460.9 567.00,469.0" stroke="#1f77b4" stroke-width="5.6"/></g>
<g opacity="0.7"><polyline points="102.00,184.0 152.40,391.5 168.40,161.5 181.90,254.5 192.80,194.9 202.90,189.8 211.40,530.0 219.50,477.0 225.50,372.0 236.90,358.0 243.20,321.2 248.30,308.5 253.00,264.0 262.60,283.5 266.50,287.0 271.10,301.0 276.20,341.5 281.60,390.5 284.70,420.9 287.70,444.3 291.80,440.2" stroke="#ff7f0e" stroke-width="4.17"/><polyline points="287.70,444.3 291.80,440.2 295.80,418.9 298.90,411.8 300.30,390.0 303.40,368.6 306.40,351.8 309.50,345.7 311.80,338.1 314.80,335.0 317.10,330.5 319.40,333.5 321.70,343.4 324.00,335.0 326.20,320.6 328.50,327.4 330.80,347.2 333.90,351.8 338.40,350.3 340.70,357.9 343.80,362.5 346.00,376.2 349.10,377.0 352.10,367.0 355.20,356.4 357.50,348.8 360.50,346.5" stroke="#ff7f0e" stroke-width="4.8"/><polyline points="355.20,356.4 357.50,348.8 360.50,346.5 363.60,335.0 366.60,320.6 369.70,318.3 372.30,333.3 375.30,331.8 378.40,319.6 381.00,309.0 383.70,321.1 386.00,334.9 389.00,327.2 392.90,329.5 396.70,325.0 400.50,331.8 404.30,334.9 408.90,325.7 411.90,331.0 415.70,324.2 418.80,308.2 422.60,301.3 426.40,296.8 430.20,292.2 434.00,294.5 435.50,301.3 439.30,296.8 441.60,302.9 444.70,305.9 447.30,316.2 451.90,305.6 455.70,311.7 459.50,305.6 464.00,310.9 467.10,326.1 471.70,333.8 474.70,346.0 477.80,358.1 482.30,361.2 486.10,365.8 490.00,350.5 495.30,342.9 499.90,336.8 502.90,324.6 507.50,327.7 511.60,324.4 515.40,329.7 518.40,335.8 521.50,341.9 526.00,340.4 529.80,345.7 533.60,352.5 539.00,348.7 544.30,344.2 548.90,335.8 552.70,340.4 556.50,353.3 561.10,364.0 565.60,371.6 567.00,374.6" stroke="#ff7f0e" stroke-width="5.6"/></g>
</g>
<g stroke="#000" stroke-width="1.25"><line x1="101.5" y1="508" x2="101.5" y2="512.17"/><line x1="131.5" y1="508" x2="131.5" y2="512.17"/><line x1="152.5" y1="508" x2="152.5" y2="512.17"/><line x1="168.5" y1="508" x2="168.5" y2="512.17"/><line x1="181.5" y1="508" x2="181.5" y2="512.17"/><line x1="192.5" y1="508" x2="192.5" y2="512.17"/><line x1="202.5" y1="508" x2="202.5" y2="512.17"/><line x1="211.5" y1="508" x2="211.5" y2="512.17"/><line x1="269.5" y1="508" x2="269.5" y2="512.17"/><line x1="298.5" y1="508" x2="298.5" y2="512.17"/><line x1="319.5" y1="508" x2="319.5" y2="512.17"/><line x1="335.5" y1="508" x2="335.5" y2="512.17"/><line x1="349.5" y1="508" x2="349.5" y2="512.17"/><line x1="360.5" y1="508" x2="360.5" y2="512.17"/><line x1="370.5" y1="508" x2="370.5" y2="512.17"/><line x1="378.5" y1="508" x2="378.5" y2="512.17"/><line x1="436.5" y1="508" x2="436.5" y2="512.17"/><line x1="466.5" y1="508" x2="466.5" y2="512.17"/><line x1="487.5" y1="508" x2="487.5" y2="512.17"/><line x1="503.5" y1="508" x2="503.5" y2="512.17"/><line x1="516.5" y1="508" x2="516.5" y2="512.17"/><line x1="527.5" y1="508" x2="527.5" y2="512.17"/><line x1="537.5" y1="508" x2="537.5" y2="512.17"/><line x1="546.5" y1="508" x2="546.5" y2="512.17"/></g>
<g stroke="#2a2a2a" stroke-width="2"><line x1="95" y1="81" x2="102" y2="81"/><line x1="95" y1="139" x2="102" y2="139"/><line x1="95" y1="197" x2="102" y2="197"/><line x1="95" y1="254" x2="102" y2="254"/><line x1="95" y1="312" x2="102" y2="312"/><line x1="95" y1="370" x2="102" y2="370"/><line x1="95" y1="428" x2="102" y2="428"/><line x1="95" y1="485" x2="102" y2="485"/><line x1="219" y1="508" x2="219" y2="515"/><line x1="386" y1="508" x2="386" y2="515"/><line x1="554" y1="508" x2="554" y2="515"/></g>
<rect x="102" y="46" width="465" height="462" fill="none" stroke="#2a2a2a" stroke-width="2" stroke-linejoin="miter"/>
<text x="86.66" y="89.14" font-size="23.07" text-anchor="end" textLength="12.17" lengthAdjust="spacingAndGlyphs" fill="rgb(12,12,12)">0</text><text x="85.87" y="146.84" font-size="23.03" text-anchor="end" textLength="27.86" lengthAdjust="spacingAndGlyphs" fill="rgb(43,43,43)">−5</text><text x="86.39" y="204.65" font-size="23.13" text-anchor="end" textLength="41.47" lengthAdjust="spacingAndGlyphs" fill="rgb(24,24,24)">−10</text><text x="86.10" y="262.40" font-size="23.11" text-anchor="end" textLength="41.22" lengthAdjust="spacingAndGlyphs" fill="rgb(42,42,42)">−15</text><text x="86.69" y="320.15" font-size="23.07" text-anchor="end" textLength="41.82" lengthAdjust="spacingAndGlyphs" fill="rgb(31,31,31)">−20</text><text x="86.10" y="377.90" font-size="23.11" text-anchor="end" textLength="41.22" lengthAdjust="spacingAndGlyphs" fill="rgb(45,45,45)">−25</text><text x="86.69" y="435.60" font-size="22.97" text-anchor="end" textLength="41.82" lengthAdjust="spacingAndGlyphs" fill="rgb(18,18,18)">−30</text><text x="86.08" y="493.36" font-size="23.06" text-anchor="end" textLength="41.24" lengthAdjust="spacingAndGlyphs" fill="rgb(54,54,54)">−35</text><text x="202.56" y="542.50" font-size="23.69" textLength="25.08" lengthAdjust="spacingAndGlyphs" fill="rgb(19,19,19)">10</text><text x="228.24" y="534.50" font-size="16.44" textLength="8.27" lengthAdjust="spacingAndGlyphs" fill="rgb(19,19,19)">2</text><text x="369.62" y="542.50" font-size="23.68" textLength="24.97" lengthAdjust="spacingAndGlyphs" fill="rgb(20,20,20)">10</text><text x="395.41" y="535.44" font-size="16.46" textLength="8.18" lengthAdjust="spacingAndGlyphs" fill="rgb(20,20,20)">3</text><text x="536.43" y="542.50" font-size="23.68" textLength="25.31" lengthAdjust="spacingAndGlyphs" fill="rgb(14,14,14)">10</text><text x="562.62" y="534.95" font-size="16.51" textLength="8.27" lengthAdjust="spacingAndGlyphs" fill="rgb(14,14,14)">4</text>
<text x="204.29" y="34.00" font-size="25.20" textLength="261.10" lengthAdjust="spacingAndGlyphs" fill="rgb(23,23,23)">Magnitude Spectrum</text>
<text x="259.07" y="571.53" font-size="20.76" textLength="149.95" lengthAdjust="spacingAndGlyphs" fill="rgb(0,0,0)">Frequency(Hz)</text>
<text transform="translate(30.71,357.99) rotate(-90)" font-size="20.37" textLength="153.69" lengthAdjust="spacingAndGlyphs" fill="rgb(2,2,2)">Magnitude(dB)</text>
<rect x="302.00" y="56.00" width="255.00" height="66.00" rx="4.17" fill="#fff" fill-opacity="0.8" stroke="#d6d6d6" stroke-width="2"/>
<line x1="307.9" y1="73" x2="354.1" y2="73" stroke="#1f77b4" stroke-width="4.17"/>
<line x1="307.9" y1="104" x2="354.1" y2="104" stroke="#ff7f0e" stroke-opacity="0.7" stroke-width="4.17"/>
<text x="368.12" y="79.59" font-size="19.55" textLength="179.38" lengthAdjust="spacingAndGlyphs" fill="rgb(0,0,0)">Pred. (smoothed)</text>
<text x="367.86" y="110.95" font-size="19.41" textLength="154.82" lengthAdjust="spacingAndGlyphs" fill="rgb(0,0,0)">GT (smoothed)</text>
</svg></body></html>
